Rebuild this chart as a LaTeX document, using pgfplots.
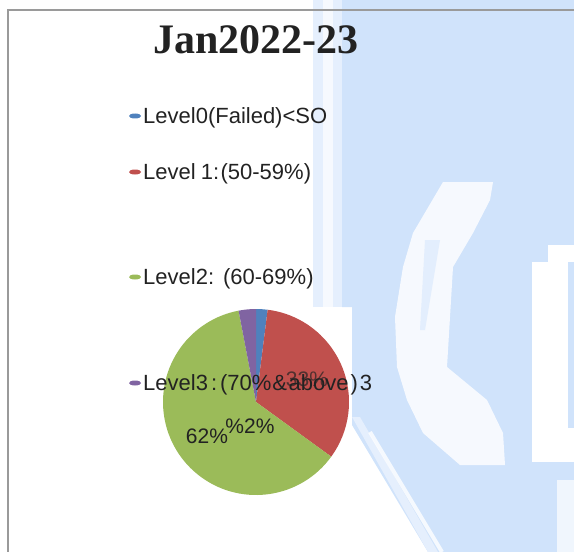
\documentclass[border=0pt]{standalone}
\usepackage{pgfplots}
\pgfplotsset{compat=1.18}
\usepackage{pgfplotstable}
\usepackage{fontspec}
\setmainfont{Liberation Sans}
\newfontfamily\titlefont{Liberation Serif}
\definecolor{wmblue}{RGB}{208,227,251}
\definecolor{wmpale}{RGB}{229,239,253}
\definecolor{lvA}{HTML}{4F81BD}
\definecolor{lvB}{HTML}{C0504D}
\definecolor{lvC}{HTML}{9BBB59}
\definecolor{lvD}{HTML}{8064A2}
\definecolor{txt}{HTML}{222222}
\definecolor{frame}{HTML}{9A9A9A}
\begin{document}
\begin{tikzpicture}
\pgfplotstableread{
level share
0 2
1 33
2 62
3 3
}\piedata
\pgfplotstablegetelem{0}{share}\of\piedata\edef\sA{\pgfplotsretval}
\pgfplotstablegetelem{1}{share}\of\piedata\edef\sB{\pgfplotsretval}
\pgfplotstablegetelem{2}{share}\of\piedata\edef\sC{\pgfplotsretval}
\pgfplotstablegetelem{3}{share}\of\piedata\edef\sD{\pgfplotsretval}
\pgfmathsetmacro\aO{90}
\pgfmathsetmacro\aA{\aO-3.6*\sA}
\pgfmathsetmacro\aB{\aA-3.6*\sB}
\pgfmathsetmacro\aC{\aB-3.6*\sC}
\pgfmathsetmacro\aD{\aC-3.6*\sD}
\begin{axis}[width=574bp,height=552bp,scale only axis,
  xmin=0,xmax=574,ymin=0,ymax=552,y dir=reverse,hide axis,clip=false]
% background watermark
\fill[wmpale] (axis cs:313,0) rectangle (axis cs:342,307);
\fill[white!65!wmpale] (axis cs:323,0) rectangle (axis cs:333,307);
\fill[wmblue] (axis cs:342,0) -- (axis cs:574,0) -- (axis cs:574,552) -- (axis cs:428,552)
  -- (axis cs:352,425) -- (axis cs:352,307) -- (axis cs:342,307) -- cycle;
\fill[wmpale] (axis cs:352,417) -- (axis cs:360,417) -- (axis cs:438,552) -- (axis cs:428,552) -- cycle;
\draw[white, line width=4bp, opacity=0.8] (axis cs:370,432) -- (axis cs:442,552);
\fill[white, opacity=0.82] (axis cs:443,182) -- (axis cs:493,182) -- (axis cs:490,200) -- (axis cs:473,233)
  -- (axis cs:453,267) -- (axis cs:450,317) -- (axis cs:447,367) -- (axis cs:487,400)
  -- (axis cs:503,433) -- (axis cs:505,465) -- (axis cs:460,465) -- (axis cs:423,433)
  -- (axis cs:407,400) -- (axis cs:397,367) -- (axis cs:395,317) -- (axis cs:403,267)
  -- (axis cs:413,233) -- cycle;
\fill[wmblue!60!white] (axis cs:425,240) -- (axis cs:440,240) -- (axis cs:425,330) -- (axis cs:420,330) -- cycle;
\fill[white] (axis cs:532,262) rectangle (axis cs:574,462);
\fill[white] (axis cs:548,245) rectangle (axis cs:574,262);
\fill[wmblue] (axis cs:568,262) rectangle (axis cs:574,428);
\fill[white, opacity=0.7] (axis cs:557,480) rectangle (axis cs:574,552);
% frame
\draw[frame, line width=2bp] (axis cs:7.5,552) -- (axis cs:7.5,10.5) -- (axis cs:574,10.5);
% pie
\fill[lvA] (axis cs:256,402) -- ++(\aO:93bp) arc[start angle=\aO,end angle=\aA,radius=93bp] -- cycle;
\fill[lvB] (axis cs:256,402) -- ++(\aA:93bp) arc[start angle=\aA,end angle=\aB,radius=93bp] -- cycle;
\fill[lvC] (axis cs:256,402) -- ++(\aB:93bp) arc[start angle=\aB,end angle=\aC,radius=93bp] -- cycle;
\fill[lvD] (axis cs:256,402) -- ++(\aC:93bp) arc[start angle=\aC,end angle=\aD,radius=93bp] -- cycle;
% data labels
\node[inner sep=0pt, font=\fontsize{21bp}{24bp}\selectfont, text=txt!70!lvB] at (axis cs:307,379) {33\%};
\node[inner sep=0pt, font=\fontsize{21bp}{24bp}\selectfont, text=txt] at (axis cs:207,436) {62\%};
\node[inner sep=0pt, font=\fontsize{21bp}{24bp}\selectfont, text=txt] at (axis cs:250,426) {\%2\%};
% legend
\fill[lvA] (axis cs:135,116) ellipse [x radius=6bp, y radius=2.5bp];
\fill[lvB] (axis cs:135,172) ellipse [x radius=6bp, y radius=2.5bp];
\fill[lvC] (axis cs:135,277) ellipse [x radius=6bp, y radius=2.5bp];
\fill[lvD] (axis cs:135,383) ellipse [x radius=6bp, y radius=2.5bp];
\node[anchor=base west, inner sep=0pt, font=\fontsize{22bp}{26bp}\selectfont, text=txt] at (axis cs:143,123.5) {Level0(Failed)<SO};
\node[anchor=base west, inner sep=0pt, font=\fontsize{22bp}{26bp}\selectfont, text=txt] at (axis cs:143,179.5) {Level\hspace{5bp}1:\hspace{1.5bp}(50-59\%)};
\node[anchor=base west, inner sep=0pt, font=\fontsize{22bp}{26bp}\selectfont, text=txt] at (axis cs:143,284.5) {Level2:\hspace{9bp}(60-69\%)};
\node[anchor=base west, inner sep=0pt, font=\fontsize{22bp}{26bp}\selectfont, text=txt] at (axis cs:143,390.5) {Level3\hspace{3bp}:\hspace{3bp}(70\%\hspace{1bp}\&\hspace{1.5bp}above\hspace{2bp})\hspace{2bp}3};
% title
\node[anchor=base, inner sep=0pt, font=\titlefont\bfseries\fontsize{42bp}{48bp}\selectfont, text=txt] at (axis cs:256,54) {Jan2022-23};
\end{axis}
\pgfresetboundingbox
\path (current axis.south west) rectangle (current axis.north east);
\end{tikzpicture}
\end{document}
